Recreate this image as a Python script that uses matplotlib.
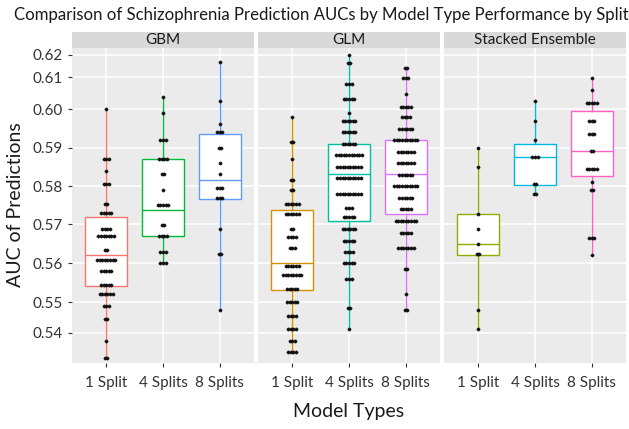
import numpy as np
import matplotlib
matplotlib.use("Agg")
import matplotlib.pyplot as plt

plt.rcParams['font.family'] = ['Lato', 'DejaVu Sans']

# ---------------- data ----------------
title = "Comparison of Schizophrenia Prediction AUCs by Model Type Performance by Split"
models = ["GBM", "GLM", "Stacked Ensemble"]
splits = ["1 Split", "4 Splits", "8 Splits"]
y_ticks = [0.54, 0.55, 0.56, 0.57, 0.58, 0.59, 0.60, 0.61, 0.62]

# dot levels (AUC) and number of dots at each level
gbm_1_levels = [0.600, 0.587, 0.584, 0.5805, 0.5754, 0.5729, 0.5689, 0.5669, 0.5634, 0.5609, 0.558, 0.5545, 0.5521, 0.5488, 0.5445, 0.5375, 0.5319]
gbm_1_counts = [1, 3, 1, 3, 2, 5, 4, 7, 2, 8, 5, 5, 6, 3, 2, 1, 2]
gbm_4_levels = [0.6037, 0.599, 0.5921, 0.587, 0.5831, 0.579, 0.575, 0.5699, 0.5669, 0.5629, 0.560]
gbm_4_counts = [1, 1, 3, 4, 2, 1, 5, 2, 4, 3, 3]
gbm_8_levels = [0.6166, 0.6025, 0.5961, 0.594, 0.590, 0.586, 0.5831, 0.5794, 0.5769, 0.5689, 0.5625, 0.5476]
gbm_8_counts = [1, 1, 1, 3, 2, 1, 1, 3, 3, 1, 2, 1]

glm_1_levels = [0.5981, 0.5915, 0.587, 0.5815, 0.5789, 0.5754, 0.5728, 0.5688, 0.5668, 0.5638, 0.5594, 0.5569, 0.5535, 0.550, 0.5456, 0.5412, 0.5375, 0.5337]
glm_1_counts = [1, 2, 1, 2, 2, 6, 6, 2, 4, 3, 6, 8, 5, 5, 4, 4, 3, 4]
glm_4_levels = [0.6198, 0.6164, 0.6079, 0.6031, 0.599, 0.597, 0.594, 0.591, 0.588, 0.585, 0.582, 0.5779, 0.5743, 0.5718, 0.5688, 0.5658, 0.5629, 0.560, 0.556, 0.5481, 0.5413]
glm_4_counts = [1, 2, 3, 5, 1, 6, 6, 6, 11, 10, 10, 10, 3, 5, 6, 5, 4, 5, 3, 2, 1]
glm_8_levels = [0.6139, 0.6097, 0.6049, 0.6007, 0.5981, 0.595, 0.592, 0.589, 0.5859, 0.5829, 0.5799, 0.5769, 0.574, 0.5708, 0.5678, 0.5638, 0.5585, 0.5521, 0.5476]
glm_8_counts = [2, 3, 1, 5, 4, 6, 10, 7, 7, 6, 10, 6, 5, 9, 5, 7, 2, 1, 2]

se_1_levels = [0.590, 0.585, 0.5728, 0.5688, 0.5649, 0.5625, 0.5476, 0.5413]
se_1_counts = [1, 1, 1, 1, 1, 2, 1, 1]
se_4_levels = [0.6025, 0.597, 0.592, 0.5875, 0.5805, 0.5779]
se_4_counts = [1, 1, 1, 3, 2, 2]
se_8_levels = [0.6098, 0.6061, 0.6019, 0.597, 0.5936, 0.5891, 0.5844, 0.581, 0.5789, 0.5664, 0.562]
se_8_counts = [1, 1, 5, 3, 3, 2, 5, 1, 2, 3, 1]

# box statistics per panel: [1 Split, 4 Splits, 8 Splits]
gbm_q1 = [0.5541, 0.5669, 0.5767]
gbm_med = [0.5620, 0.5738, 0.5815]
gbm_q3 = [0.5718, 0.5870, 0.5935]
gbm_lo = [0.5319, 0.5600, 0.5476]
gbm_hi = [0.6000, 0.6037, 0.6166]

glm_q1 = [0.5532, 0.5709, 0.5726]
glm_med = [0.5601, 0.5831, 0.5831]
glm_q3 = [0.5738, 0.5910, 0.5920]
glm_lo = [0.5337, 0.5413, 0.5476]
glm_hi = [0.5981, 0.6198, 0.6139]

se_q1 = [0.5620, 0.5803, 0.5826]
se_med = [0.5649, 0.5875, 0.5891]
se_q3 = [0.5728, 0.5910, 0.5996]
se_lo = [0.5413, 0.5779, 0.5620]
se_hi = [0.5900, 0.6025, 0.6098]

colors = {
    "GBM": ["#F8766D", "#00BA38", "#619CFF"],
    "GLM": ["#D39200", "#00C19F", "#DB72FB"],
    "Stacked Ensemble": ["#93AA00", "#00B9E3", "#FF61C3"],
}

dots = {
    "GBM": [(gbm_1_levels, gbm_1_counts), (gbm_4_levels, gbm_4_counts), (gbm_8_levels, gbm_8_counts)],
    "GLM": [(glm_1_levels, glm_1_counts), (glm_4_levels, glm_4_counts), (glm_8_levels, glm_8_counts)],
    "Stacked Ensemble": [(se_1_levels, se_1_counts), (se_4_levels, se_4_counts), (se_8_levels, se_8_counts)],
}
boxes = {
    "GBM": (gbm_q1, gbm_med, gbm_q3, gbm_lo, gbm_hi),
    "GLM": (glm_q1, glm_med, glm_q3, glm_lo, glm_hi),
    "Stacked Ensemble": (se_q1, se_med, se_q3, se_lo, se_hi),
}

# ---------------- non-linear y scale (as in the reference) ----------------
TV = np.array(y_ticks)
TP = -np.array([333, 302.3, 263.3, 224.3, 186, 147.7, 109.3, 77.3, 54.5])

def fwd(v):
    v = np.asarray(v, float)
    y = np.interp(v, TV, TP)
    s0 = (TP[1] - TP[0]) / (TV[1] - TV[0])
    s1 = (TP[-1] - TP[-2]) / (TV[-1] - TV[-2])
    y = np.where(v < TV[0], TP[0] + (v - TV[0]) * s0, y)
    y = np.where(v > TV[-1], TP[-1] + (v - TV[-1]) * s1, y)
    return y

def inv(y):
    y = np.asarray(y, float)
    v = np.interp(y, TP, TV)
    s0 = (TV[1] - TV[0]) / (TP[1] - TP[0])
    s1 = (TV[-1] - TV[-2]) / (TP[-1] - TP[-2])
    v = np.where(y < TP[0], TV[0] + (y - TP[0]) * s0, v)
    v = np.where(y > TP[-1], TV[-1] + (y - TP[-1]) * s1, v)
    return v

# ---------------- figure ----------------
W, H = 629, 429
fig = plt.figure(figsize=(W / 100, H / 100), dpi=100)
fig.patch.set_facecolor("white")

panel_x = [72, 258, 444]
panel_w = 182
p_top, p_bot = 48, 363
strip_top = 32

y_lo, y_hi = float(inv(-363)), float(inv(-48))

for i, m in enumerate(models):
    ax = fig.add_axes([panel_x[i] / W, 1 - p_bot / H, panel_w / W, (p_bot - p_top) / H])
    ax.set_yscale("function", functions=(fwd, inv))
    ax.set_facecolor("#EBEBEB")
    for s in ax.spines.values():
        s.set_visible(False)
    ax.grid(True, color="white", linewidth=1.1, zorder=0)
    ax.set_axisbelow(True)

    q1, med, q3, lo, hi = boxes[m]
    for j in range(3):
        c = colors[m][j]
        stats = [dict(q1=q1[j], med=med[j], q3=q3[j], whislo=lo[j], whishi=hi[j], fliers=[])]
        ax.bxp(stats, positions=[j + 1], widths=0.75, showfliers=False, showcaps=False,
               patch_artist=True, manage_ticks=False,
               boxprops=dict(facecolor="white", edgecolor=c, linewidth=1.0),
               medianprops=dict(color=c, linewidth=1.0),
               whiskerprops=dict(color=c, linewidth=1.0))
        lv, ct = dots[m][j]
        xs, ys = [], []
        step = 0.045
        for v, n in zip(lv, ct):
            off = (np.arange(n) - (n - 1) / 2) * step
            xs.extend(j + 1 + off)
            ys.extend([v] * n)
        ax.plot(xs, ys, "o", ms=2.4, mfc="#111111", mec="#111111", mew=0.2,
                linestyle="none", zorder=5)

    ax.set_xlim(0.4, 3.6)
    ax.set_ylim(y_lo, y_hi)
    ax.set_yticks(y_ticks)
    ax.set_xticks([1, 2, 3])
    ax.set_xticklabels(splits)
    ax.tick_params(axis="both", length=3, color="#333333", labelcolor="#333333",
                   labelsize=11, width=0.8)
    ax.tick_params(axis="x", pad=6)
    if i == 0:
        ax.set_yticklabels([f"{t:.2f}" for t in y_ticks])
    else:
        ax.tick_params(axis="y", length=0, labelleft=False)

    # strip
    sax = fig.add_axes([panel_x[i] / W, 1 - p_top / H, panel_w / W, (p_top - strip_top) / H])
    sax.set_facecolor("#D9D9D9")
    sax.set_xticks([]); sax.set_yticks([])
    for s in sax.spines.values():
        s.set_visible(False)
    sax.text(0.5, 0.5, m, ha="center", va="center", fontsize=11, color="#1A1A1A",
             transform=sax.transAxes)

fig.text(14 / W, 1 - 15 / H, title, ha="left", va="center", fontsize=12.1, color="#1A1A1A")
fig.text(16 / W, 1 - 205 / H, "AUC of Predictions", rotation=90, ha="center", va="center",
         fontsize=14, color="#1A1A1A")
fig.text(349 / W, 1 - 411 / H, "Model Types", ha="center", va="center", fontsize=14,
         color="#1A1A1A")

fig.savefig("out.png", dpi=100)
